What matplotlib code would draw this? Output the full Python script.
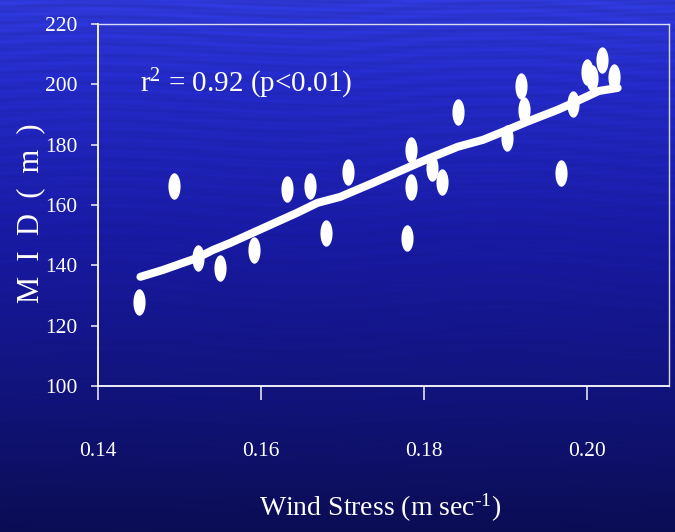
import numpy as np
import matplotlib
matplotlib.use("Agg")
import matplotlib.pyplot as plt
from matplotlib.path import Path

# Observations: wind stress vs mixed layer depth
wind_stress = [0.1450, 0.1493, 0.1523, 0.1550, 0.1591, 0.1632, 0.1660, 0.1680,
               0.1707, 0.1779, 0.1784, 0.1784, 0.1809, 0.1822, 0.1841, 0.1901,
               0.1918, 0.1922, 0.1967, 0.1982, 0.2000, 0.2006, 0.2018, 0.2033]
mld = [127.9, 166.3, 142.5, 139.1, 145.1, 165.3, 166.3, 150.7,
       171.0, 149.1, 178.3, 166.0, 172.3, 167.7, 190.9, 182.3,
       199.5, 191.5, 170.6, 193.5, 204.1, 202.2, 208.1, 202.5]

# Smoothed fit curve
fit_x = [0.1452, 0.1480, 0.1504, 0.1522, 0.1541, 0.1562, 0.1603, 0.1644,
         0.1669, 0.1697, 0.1737, 0.1779, 0.1807, 0.1841, 0.1872, 0.1902,
         0.1926, 0.1963, 0.1983, 0.2014, 0.2037]
fit_y = [136.2, 138.5, 140.8, 142.5, 145.1, 147.4, 152.4, 157.4,
         160.7, 162.7, 167.3, 172.3, 175.6, 179.3, 181.6, 184.9,
         187.6, 191.5, 193.9, 197.8, 198.8]

x_ticks = [0.14, 0.16, 0.18, 0.20]
x_tick_labels = ["0.14", "0.16", "0.18", "0.20"]
y_ticks = [100, 120, 140, 160, 180, 200, 220]
y_tick_labels = ["100", "120", "140", "160", "180", "200", "220"]

plt.rcParams["font.family"] = ["Liberation Serif", "DejaVu Serif"]
plt.rcParams["mathtext.fontset"] = "custom"
plt.rcParams["mathtext.rm"] = "Liberation Serif"
plt.rcParams["mathtext.it"] = "Liberation Serif:italic"

W, H = 675, 532
fig = plt.figure(figsize=(W / 100, H / 100), dpi=100)

# Deep-water backdrop: vertical blue gradient with soft horizontal ripples
rows = np.linspace(0, 1, H)[:, None]
cols = np.linspace(0, 1, W)[None, :]
stops = [0.0, 0.15, 0.45, 0.75, 1.0]
cr = np.interp(rows, stops, [46, 36, 24, 17, 11])
cg = np.interp(rows, stops, [56, 42, 26, 19, 13])
cb = np.interp(rows, stops, [214, 198, 162, 122, 84])
ripple = (0.045 * np.sin(2 * np.pi * rows * 41 + 3 * np.sin(2 * np.pi * cols * 1.7))
          + 0.03 * np.sin(2 * np.pi * rows * 97 + 5 * np.sin(2 * np.pi * cols * 0.9 + 1.0)))
ripple = ripple * np.exp(-rows * 2.5)
img = np.stack([cr, cg, cb], axis=-1) * (1 + ripple[..., None]) / 255.0
img = np.clip(img, 0, 1)
bg = fig.add_axes([0, 0, 1, 1], zorder=0)
bg.imshow(img, aspect="auto", extent=[0, 1, 0, 1])
bg.axis("off")

ax = fig.add_axes([98 / W, 1 - 386 / H, (669 - 98) / W, (386 - 24) / H], zorder=1)
ax.set_facecolor("none")

# Tall ellipse marker
t = np.linspace(0, 2 * np.pi, 60)
ell = Path(np.column_stack([0.46 * np.cos(t), np.sin(t)]), closed=True)

ax.plot(fit_x, fit_y, color="white", lw=5.8, solid_capstyle="round",
        solid_joinstyle="round", zorder=3)
ax.plot(wind_stress, mld, linestyle="none", marker=ell, markersize=19,
        color="white", markeredgewidth=0, zorder=4)

ax.set_xlim(0.14, 0.21)
ax.set_ylim(100, 220)
ax.set_xticks(x_ticks)
ax.set_xticklabels(x_tick_labels)
ax.set_yticks(y_ticks)
ax.set_yticklabels(y_tick_labels)

for side in ["left", "bottom"]:
    ax.spines[side].set_color("white")
    ax.spines[side].set_linewidth(1.3)
for side in ["top", "right"]:
    ax.spines[side].set_color("#d8dcf0")
    ax.spines[side].set_linewidth(1.0)

ax.tick_params(axis="y", direction="out", length=5, width=1.2, color="#e0e0f0",
               labelcolor="white", labelsize=15.5, pad=10)
ax.tick_params(axis="x", direction="out", length=10, width=1.2, color="#e0e0f0",
               labelcolor="white", labelsize=15.5, pad=30)

ax.text(0.073, 0.835, "r$^{2}$ = 0.92 (p<0.01)", transform=ax.transAxes,
        color="white", fontsize=21, ha="left", va="center")

fig.text(380 / W, 1 - 508 / H, "Wind Stress (m sec$^{\\text{-1}}$)",
         color="white", fontsize=20, ha="center", va="center")
fig.text(31 / W, 1 - 213 / H, "M  I  D  (  m  )", color="white", fontsize=22,
         rotation=90, ha="center", va="center")

fig.savefig("out.png", dpi=100)
